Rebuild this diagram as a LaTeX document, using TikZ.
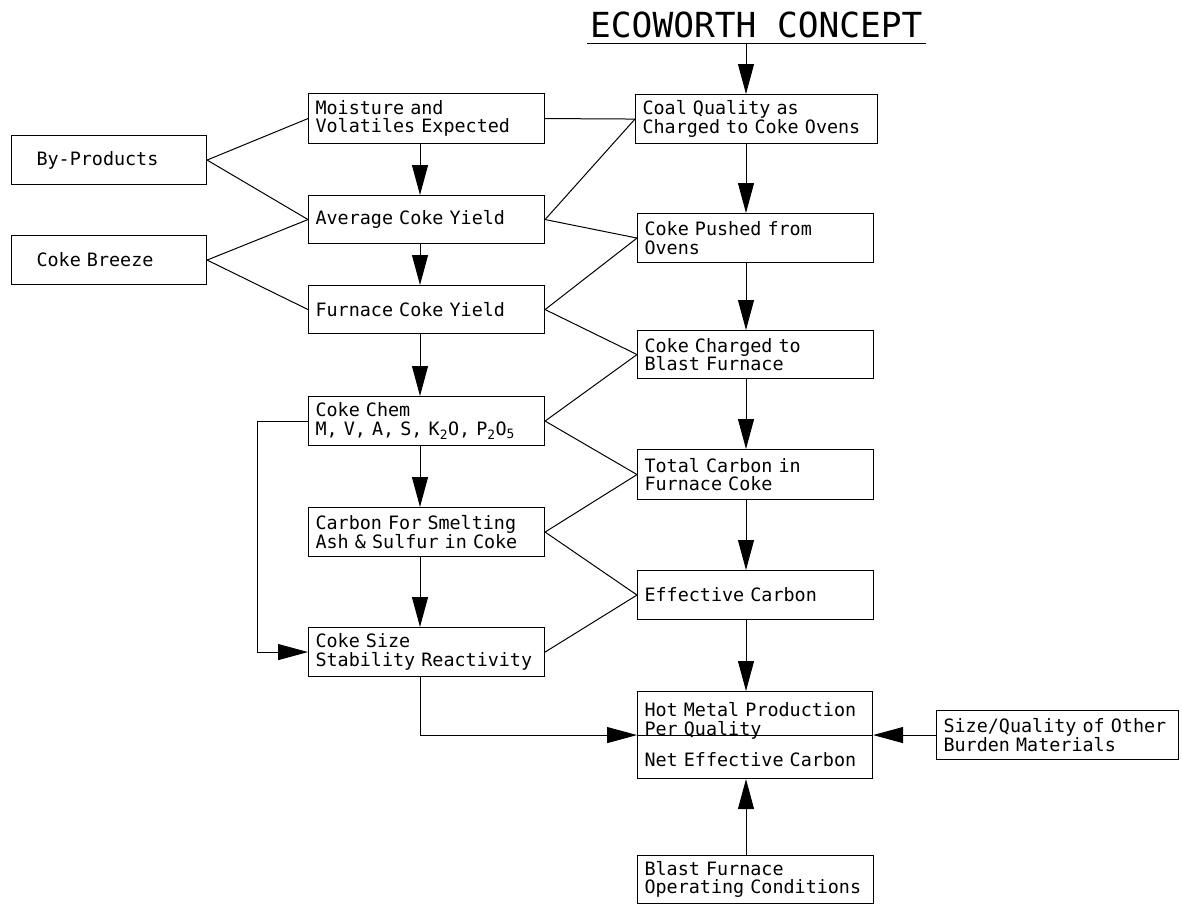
\documentclass[tikz,border=0pt]{standalone}
\usepackage{fontspec}
\setmonofont{DejaVu Sans Mono}
\usetikzlibrary{arrows.meta}
\begin{document}
\begin{tikzpicture}[x=1pt,y=-1pt,
  box/.style={draw, line width=1.1pt, anchor=north west, inner xsep=7pt, inner ysep=0pt,
    align=left, font=\ttfamily\fontsize{18.4}{18.5}\selectfont},
  conn/.style={line width=1pt},
  arr/.style={line width=1pt, -{Triangle[length=30pt,width=16pt]}},
  titlefont/.style={font=\ttfamily\fontsize{34.5}{36}\selectfont}]
\useasboundingbox (0,0) rectangle (1182,905);

% title
\node[titlefont, inner sep=0pt, anchor=base west] (title) at (590,37) {ECOWORTH CONCEPT};
\draw[conn] ([shift={(-3pt,-6pt)}]title.base west) -- ([shift={(3pt,-6pt)}]title.base east);
\coordinate (tu) at (746,43);

% left boxes
\node[box, text width=181pt, minimum height=49pt] (byp) at (11,135) {\hspace*{18pt}By-Products};
\node[box, text width=181pt, minimum height=49pt] (brz) at (11,235) {\hspace*{18pt}Coke Breeze};

% middle column
\node[box, text width=222pt, minimum height=50pt] (moist) at (308,93) {Moisture and\\Volatiles Expected};
\node[box, text width=222pt, minimum height=48pt] (avg) at (308,195) {Average Coke Yield};
\node[box, text width=222pt, minimum height=48pt] (fcy) at (308,285) {Furnace Coke Yield};
\node[box, text width=222pt, minimum height=49pt] (chem) at (308,396) {Coke Chem\\M, V, A, S, K\textsubscript{2}O, P\textsubscript{2}O\textsubscript{5}};
\node[box, text width=222pt, minimum height=49pt] (csm) at (308,507) {Carbon For Smelting\\Ash \& Sulfur in Coke};
\node[box, text width=222pt, minimum height=49pt] (csz) at (308,627) {Coke Size\\Stability Reactivity};

% right column
\node[box, text width=228pt, minimum height=49pt] (coal) at (635,94) {Coal Quality as\\Charged to Coke Ovens};
\node[box, text width=222pt, minimum height=49pt] (push) at (637,213) {Coke Pushed from\\Ovens};
\node[box, text width=222pt, minimum height=48pt] (chg) at (637,330) {Coke Charged to\\Blast Furnace};
\node[box, text width=222pt, minimum height=50pt] (tot) at (637,449) {Total Carbon in\\Furnace Coke};
\node[box, text width=222pt, minimum height=49pt] (eff) at (637,570) {Effective Carbon};
\node[box, text width=221pt, minimum height=87pt] (hm) at (637,691) {Hot Metal Production\\Per Quality\\[13pt]Net Effective Carbon};
\draw[line width=1.1pt] (hm.west) -- (hm.east);
\node[box, text width=228pt, minimum height=49pt] (sq) at (936,710) {Size/Quality of Other\\Burden Materials};
\node[box, text width=222pt, minimum height=48pt] (bf) at (637,855) {Blast Furnace\\Operating Conditions};

\coordinate (lx) at (420,0);
\coordinate (rx) at (746,0);

% plain connectors
\draw[conn] (byp.east) -- (moist.west);
\draw[conn] (byp.east) -- (avg.west);
\draw[conn] (brz.east) -- (avg.west);
\draw[conn] (brz.east) -- (fcy.west);
\draw[conn] (moist.east) -- (coal.west);
\draw[conn] (avg.east) -- (coal.west);
\draw[conn] (avg.east) -- (push.west);
\draw[conn] (fcy.east) -- (push.west);
\draw[conn] (fcy.east) -- (chg.west);
\draw[conn] (chem.east) -- (chg.west);
\draw[conn] (chem.east) -- (tot.west);
\draw[conn] (csm.east) -- (tot.west);
\draw[conn] (csm.east) -- (eff.west);
\draw[conn] (csz.east) -- (eff.west);

% arrows middle column
\draw[arr] (moist.south -| lx) -- (avg.north -| lx);
\draw[arr] (avg.south -| lx) -- (fcy.north -| lx);
\draw[arr] (fcy.south -| lx) -- (chem.north -| lx);
\draw[arr] (chem.south -| lx) -- (csm.north -| lx);
\draw[arr] (csm.south -| lx) -- (csz.north -| lx);
\draw[arr] (chem.west) -- ++(-51,0) |- (csz.west);
\draw[arr] (csz.south -| lx) |- (hm.west);

% arrows right column
\draw[arr] (tu) -- (coal.north -| rx);
\draw[arr] (coal.south -| rx) -- (push.north -| rx);
\draw[arr] (push.south -| rx) -- (chg.north -| rx);
\draw[arr] (chg.south -| rx) -- (tot.north -| rx);
\draw[arr] (tot.south -| rx) -- (eff.north -| rx);
\draw[arr] (eff.south -| rx) -- (hm.north -| rx);
\draw[arr] (bf.north -| rx) -- (hm.south -| rx);
\draw[arr] (sq.west) -- (hm.east);
\end{tikzpicture}
\end{document}
